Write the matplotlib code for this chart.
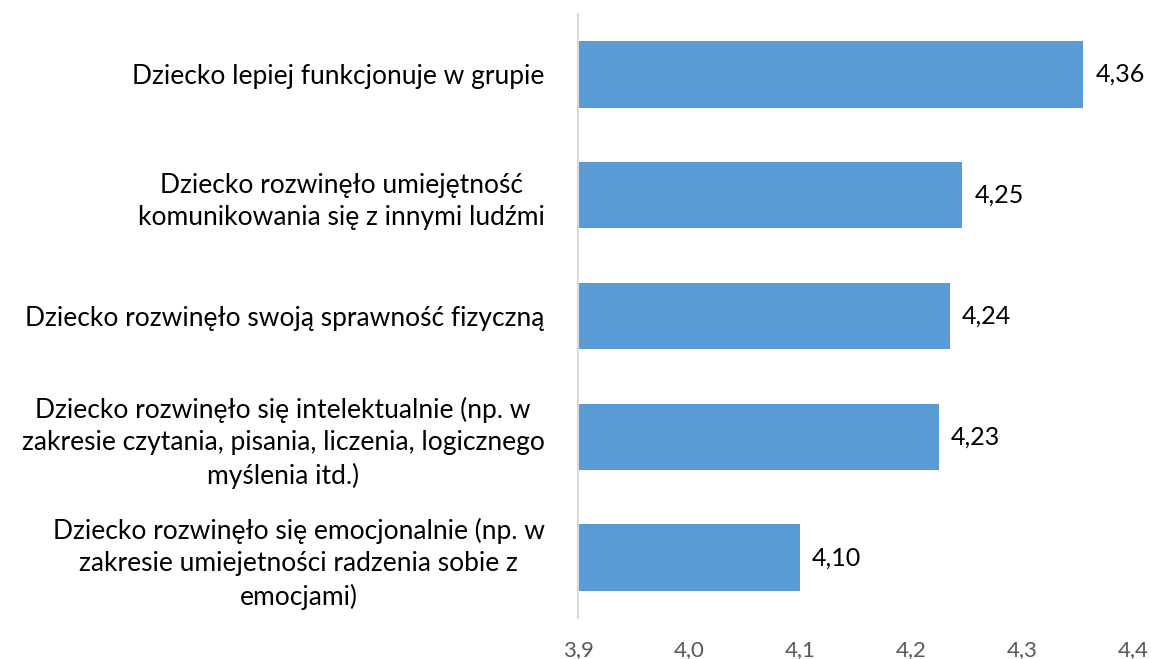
import matplotlib
matplotlib.use("Agg")
import matplotlib.pyplot as plt

categories = [
    "Dziecko lepiej funkcjonuje w grupie",
    "Dziecko rozwinęło umiejętność\nkomunikowania się z innymi ludźmi",
    "Dziecko rozwinęło swoją sprawność fizyczną",
    "Dziecko rozwinęło się intelektualnie (np. w\nzakresie czytania, pisania, liczenia, logicznego\nmyślenia itd.)",
    "Dziecko rozwinęło się emocjonalnie (np. w\nzakresie umiejetności radzenia sobie z\nemocjami)",
]
values = [4.355, 4.246, 4.235, 4.225, 4.10]
value_labels = ["4,36", "4,25", "4,24", "4,23", "4,10"]
xticks = [3.9, 4.0, 4.1, 4.2, 4.3, 4.4]
xtick_labels = ["3,9", "4,0", "4,1", "4,2", "4,3", "4,4"]

plt.rcParams['font.family'] = ['Lato', 'DejaVu Sans']

fig = plt.figure(figsize=(11.51, 6.59), dpi=100)
ax = fig.add_axes([578/1151, 1-618/659, (1133-578)/1151, (618-14)/659])

y = list(range(len(categories)))
ax.barh(y, [v - 3.9 for v in values], left=3.9, height=0.55, color="#5B9BD5")
ax.set_xlim(3.9, 4.4)
ax.set_ylim(len(categories) - 0.5, -0.5)

for yi, v, lab in zip(y, values, value_labels):
    ax.text(v + 0.011, yi, lab, va="center", ha="left", fontsize=18, color="black")

ax.set_yticks(y)
ax.set_yticklabels(categories, fontsize=19, multialignment="center", linespacing=1.35)
ax.tick_params(axis="y", length=0, pad=24)
ax.set_xticks(xticks)
ax.set_xticklabels(xtick_labels, fontsize=16, color="#595959")
ax.tick_params(axis="x", length=0, pad=16)

for s in ["top", "right", "bottom"]:
    ax.spines[s].set_visible(False)
ax.spines["left"].set_color("#D9D9D9")
ax.spines["left"].set_linewidth(1.5)

fig.savefig("out.png", dpi=100)
